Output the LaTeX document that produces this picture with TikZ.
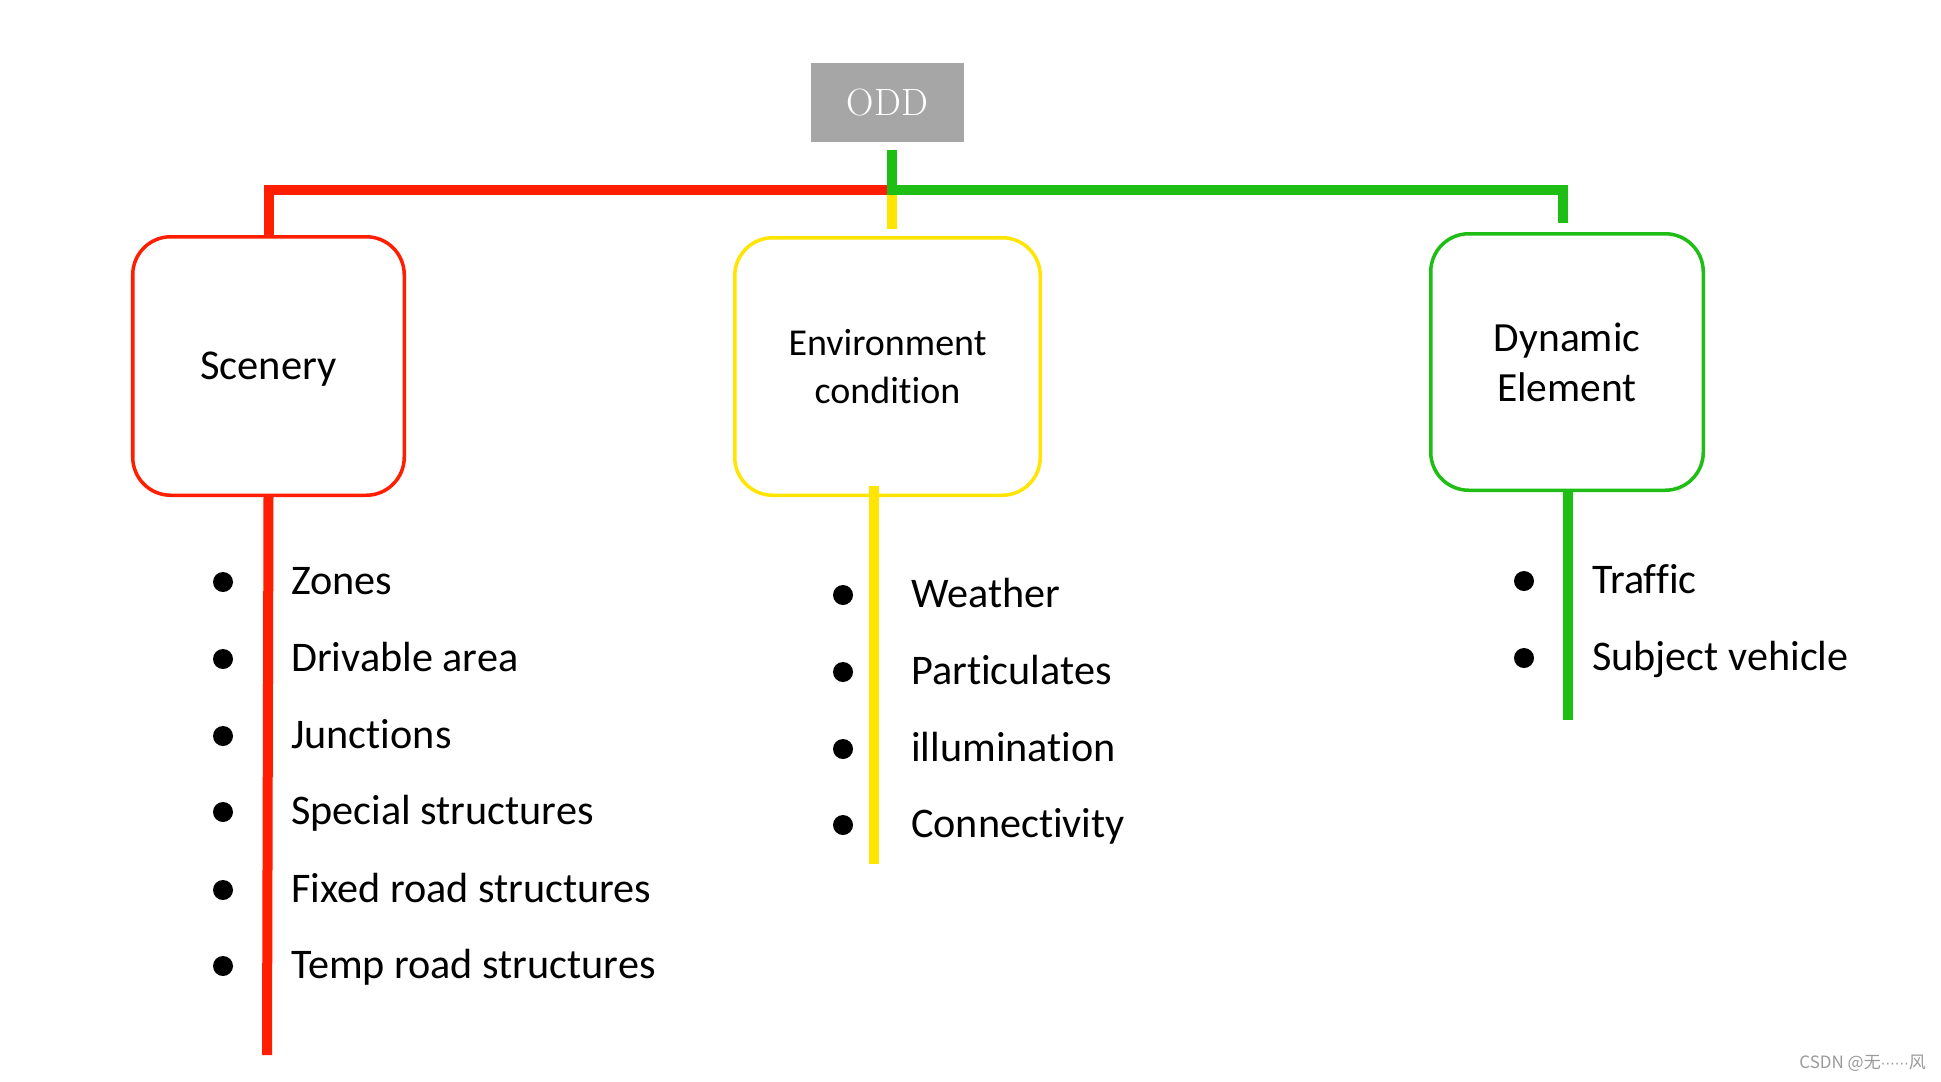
\documentclass[tikz,border=0pt]{standalone}
\usepackage{fontspec}
\newfontfamily\calfont[Ligatures={NoCommon}]{Carlito}
\newfontfamily\cjkfont{Noto Sans CJK SC}
\newfontfamily\djvfont{DejaVu Sans}
\definecolor{cred}{HTML}{FF1E00}
\definecolor{cgreen}{HTML}{1EBE14}
\definecolor{cyellow}{HTML}{FFE500}
\definecolor{cgray}{HTML}{A6A6A6}
\definecolor{wmgray}{HTML}{9A9A9A}
\tikzset{
  box/.style={draw, line width=3.5bp, rounded corners=38bp, fill=white, align=center, inner sep=0pt},
  trunk/.style={line width=10bp, line cap=butt, line join=miter},
  bul/.style={circle, fill=black, minimum size=20bp, inner sep=0pt},
  item/.style={anchor=base west, inner sep=0pt, font=\calfont\fontsize{42.2bp}{50bp}\selectfont},
}
\begin{document}
\begin{tikzpicture}[x=1bp,y=-1bp]
\useasboundingbox[fill=white] (0,0) rectangle (1941,1081);

% root
\node[fill=cgray, minimum width=153bp, minimum height=79bp, inner sep=0pt,
      text=white, font=\addfontfeature{LetterSpace=4}\fontsize{38bp}{40bp}\selectfont] (odd) at (887.5,102.5) {ODD};

% boxes
\node[box, draw=cred, minimum width=271.5bp, minimum height=258.5bp,
      font=\calfont\fontsize{42.5bp}{50bp}\selectfont] (scen) at (268.5,366) {\raisebox{-13bp}[0pt][0pt]{Scenery}};
\node[box, draw=cyellow, minimum width=305.5bp, minimum height=257.5bp,
      font=\calfont\fontsize{38bp}{48bp}\selectfont] (env) at (887.5,366.5) {Environment\\condition};
\node[box, draw=cgreen, minimum width=272.5bp, minimum height=256.5bp,
      font=\calfont\fontsize{41.5bp}{50bp}\selectfont] (dyn) at (1567,362) {Dynamic\\Element};

% junction coordinates
\coordinate (gtop) at (892,150);
\coordinate (jn) at (892,190);
\coordinate (ystub) at (892,229);
\coordinate (gend) at (1563,223);
\coordinate (rend) at (267,1055);
\coordinate (ystart) at (874,486);
\coordinate (yend) at (874,864);
\coordinate (gbend) at (1568,720);

% upper connectors
\draw[trunk, cyellow] (jn) -- (ystub);
\draw[trunk, cred] (scen.north) |- (jn);
\draw[trunk, cgreen] (gtop) -- (jn) -| (gend);

% lower trunks
\draw[trunk, cred] (scen.south) -- (rend);
\draw[trunk, cyellow] (ystart) -- (yend);
\draw[trunk, cgreen] (dyn.south -| gbend) -- (gbend);

% Scenery items
\foreach \t/\b [count=\i] in {Zones/594, Drivable area/671, Junctions/748, Special structures/824, Fixed road structures/902, Temp road structures/978}{
  \node[bul] (sb\i) at (223,\b-12) {};
  \node[item] (si\i) at (291,\b) {\t};
}
% Environment items
\foreach \t/\b [count=\i] in {Weather/607, Particulates/684, illumination/761, Connectivity/837}{
  \node[bul] (eb\i) at (843,\b-12) {};
  \node[item] (ei\i) at (911,\b) {\t};
}
% Dynamic items
\foreach \t/\b [count=\i] in {Traffic/593, Subject vehicle/670}{
  \node[bul] (db\i) at (1524,\b-12) {};
  \node[item] (di\i) at (1592,\b) {\t};
}

% watermark
\node[anchor=east, inner sep=0pt, text=wmgray, font=\cjkfont\fontsize{17bp}{19bp}\selectfont] (wm) at (1926,1063) {CSDN @无{\djvfont\fontsize{14bp}{16bp}\selectfont ⋯⋯}风};
\end{tikzpicture}
\end{document}
